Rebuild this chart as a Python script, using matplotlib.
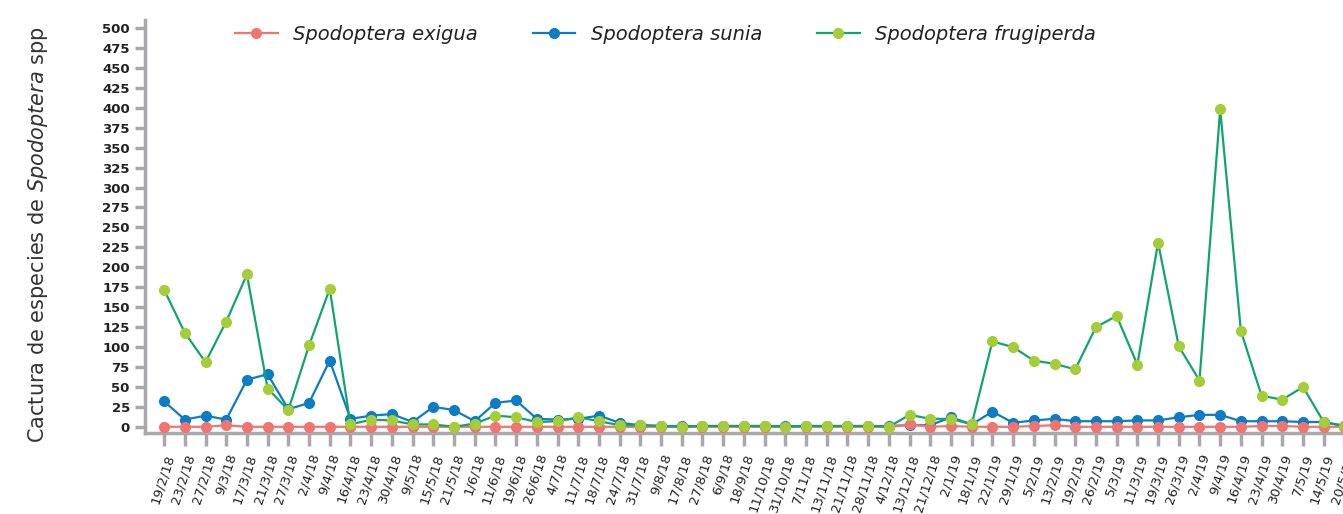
import matplotlib.pyplot as plt
import numpy as np

fechas = ['19/2/18', '23/2/18', '27/2/18', '9/3/18', '17/3/18', '21/3/18', '27/3/18',
          '2/4/18', '9/4/18', '16/4/18', '23/4/18', '30/4/18', '9/5/18', '15/5/18',
          '21/5/18', '1/6/18', '11/6/18', '19/6/18', '26/6/18', '4/7/18', '11/7/18',
          '18/7/18', '24/7/18', '31/7/18', '9/8/18', '17/8/18', '27/8/18', '6/9/18',
          '18/9/18', '11/10/18', '31/10/18', '7/11/18', '13/11/18', '21/11/18',
          '28/11/18', '4/12/18', '13/12/18', '21/12/18', '2/1/19', '18/1/19',
          '22/1/19', '29/1/19', '5/2/19', '13/2/19', '19/2/19', '26/2/19', '5/3/19',
          '11/3/19', '19/3/19', '26/3/19', '2/4/19', '9/4/19', '16/4/19', '23/4/19',
          '30/4/19', '7/5/19', '14/5/19', '20/5/19']

exigua = [0, 0, 0, 2, 0, 0, 0, 0, 0, 0, 0, 0, 0, 0,
          0, 0, 0, 0, 0, 0, 0, 0, 0, 0, 0, 0, 0, 0,
          0, 0, 0, 0, 0, 0, 0, 0, 3, 0, 1, 0,
          0, 0, 1, 2, 0, 0, 0, 0, 0, 0, 0, 0, 0, 1,
          1, 0, 0, 0]

sunia = [32, 9, 14, 9, 59, 66, 22, 30, 83, 10, 14, 16, 6, 25,
         21, 7, 30, 33, 10, 9, 10, 14, 5, 2, 1, 1, 1, 1,
         1, 1, 1, 1, 1, 1, 1, 1, 2, 2, 12, 3,
         19, 5, 8, 10, 7, 7, 7, 8, 8, 12, 15, 15, 7, 7,
         7, 6, 6, 1]

frugiperda = [172, 118, 81, 132, 191, 48, 21, 102, 173, 3, 9, 8, 3, 3,
              0, 4, 14, 12, 6, 7, 12, 7, 2, 2, 1, 0, 1, 1,
              1, 1, 0, 1, 1, 1, 1, 0, 15, 10, 10, 3,
              107, 100, 83, 79, 72, 125, 139, 78, 231, 101, 58, 398, 120, 39,
              34, 50, 6, 1]

gris = '#a9a9ab'
x = np.arange(len(fechas))

fig = plt.figure(figsize=(13.43, 5.14), dpi=100)
ax = fig.add_axes([0.108, 0.158, 0.9, 0.803])

ax.plot(x, sunia, color='#0b7dc6', lw=1.6, marker='o', ms=7,
        mfc='#0b7dc6', mec='#0b7dc6', label='Spodoptera sunia', zorder=2)
ax.plot(x, exigua, color='#f07470', lw=1.6, marker='o', ms=7,
        mfc='#f07470', mec='#f07470', label='Spodoptera exigua', zorder=3)
ax.plot(x, frugiperda, color='#10a56e', lw=1.6, marker='o', ms=7,
        mfc='#a5cd37', mec='#a5cd37', label='Spodoptera frugiperda', zorder=4)

ax.set_xlim(-0.92, 57.45)
ax.set_ylim(-7.5, 510)
ax.set_yticks(np.arange(0, 501, 25))
ax.set_xticks(x)
ax.set_xticklabels(fechas, rotation=72, ha='right', rotation_mode='anchor',
                   fontsize=9.5, color='#222222')
for lab in ax.get_yticklabels():
    lab.set_fontsize(9.5)
    lab.set_fontweight('bold')
    lab.set_color('#222222')

for s in ['top', 'right']:
    ax.spines[s].set_visible(False)
for s in ['left', 'bottom']:
    ax.spines[s].set_color(gris)
    ax.spines[s].set_linewidth(2.5)
ax.tick_params(axis='y', length=7, width=2.5, color=gris, pad=4)
ax.tick_params(axis='x', length=9, width=2.5, color=gris, pad=5)

ax.set_ylabel(r'Cactura de especies de $\it{Spodoptera}$ spp', fontsize=15,
              color='#333333')
ax.yaxis.set_label_coords(-0.079, 0.48)

h, l = ax.get_legend_handles_labels()
orden = [1, 0, 2]
leg = ax.legend([h[i] for i in orden], [l[i] for i in orden], ncol=3,
                frameon=False, loc='upper left', bbox_to_anchor=(0.06, 1.03),
                handlelength=2.2, columnspacing=2.8, handletextpad=0.8,
                prop={'style': 'italic', 'size': 14})
for t in leg.get_texts():
    t.set_color('#222222')

fig.savefig('out.png', dpi=100)
